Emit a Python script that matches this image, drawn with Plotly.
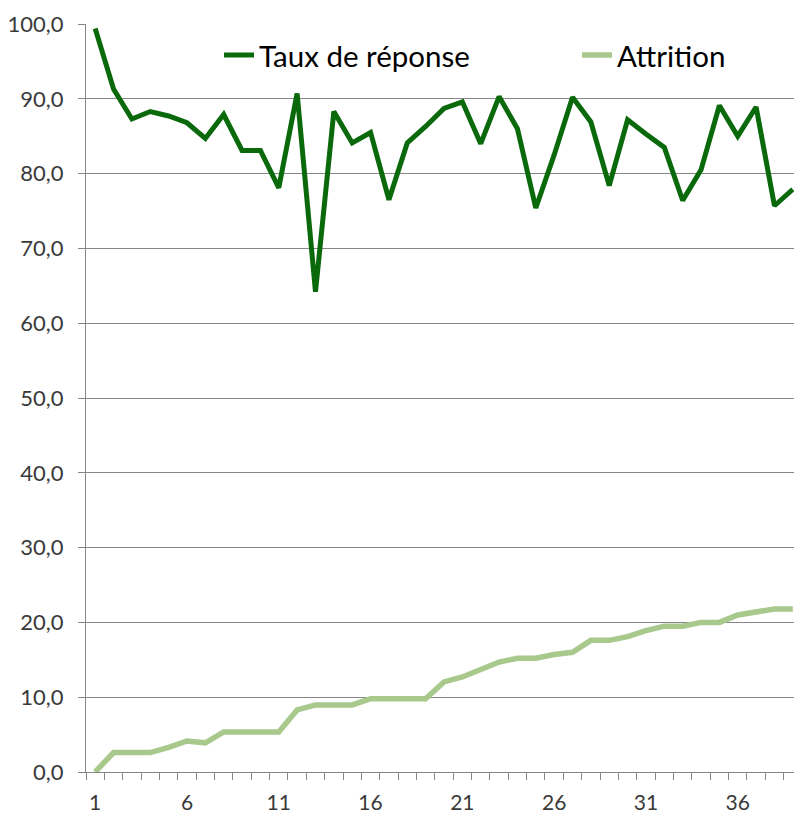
import plotly.graph_objects as go

x_vals = list(range(1, 40))
taux_reponse = [99.4, 91.3, 87.3, 88.3, 87.7, 86.8, 84.7, 87.9, 83.1, 83.1,
                78.1, 90.7, 64.2, 88.3, 84.1, 85.5, 76.5, 84.1, 86.3, 88.7,
                89.6, 84.0, 90.3, 86.0, 75.4, 82.5, 90.2, 86.9, 78.4, 87.2,
                85.3, 83.5, 76.4, 80.5, 89.1, 85.0, 88.9, 75.7, 77.9]
attrition = [0.0, 2.6, 2.6, 2.6, 3.3, 4.15, 3.9, 5.36, 5.36, 5.36,
             5.36, 8.3, 8.97, 8.97, 8.97, 9.8, 9.8, 9.8, 9.8, 12.05,
             12.7, 13.7, 14.7, 15.2, 15.2, 15.7, 16.0, 17.6, 17.6, 18.1,
             18.9, 19.5, 19.5, 20.0, 20.0, 21.0, 21.4, 21.8, 21.8]
x_tick_vals = [1, 6, 11, 16, 21, 26, 31, 36]
x_tick_text = ["1", "6", "11", "16", "21", "26", "31", "36"]
y_tick_vals = [0, 10, 20, 30, 40, 50, 60, 70, 80, 90, 100]

FONT = "Lato"
TICK_COLOR = "#3a3a3a"
fig = go.Figure()
fig.add_trace(go.Scatter(x=x_vals, y=taux_reponse, mode="lines", name="Taux de réponse",
                         line=dict(color="#0A690A", width=5)))
fig.add_trace(go.Scatter(x=x_vals, y=attrition, mode="lines", name="Attrition",
                         line=dict(color="#A8C98B", width=5.5)))

fig.update_layout(
    width=794, height=808,
    margin=dict(l=78, r=0, t=15.5, b=44, autoexpand=False),
    paper_bgcolor="white", plot_bgcolor="white",
    separators=", ",
    font=dict(family=FONT, color=TICK_COLOR, size=22),
    showlegend=True,
    legend=dict(orientation="h", x=0.1858, xanchor="left", y=0.958, yanchor="middle",
                font=dict(family=FONT, size=29.5, color="#000000"),
                bgcolor="rgba(255,255,255,0)", entrywidth=313, entrywidthmode="pixels",
                itemwidth=30, tracegroupgap=0),
    xaxis=dict(range=[0.5, 39.5], tickvals=x_tick_vals, ticktext=x_tick_text,
               showgrid=False, zeroline=False, showline=True, linecolor="#868686", linewidth=1,
               ticks="", ticklabelstandoff=12, automargin=False,
               tickfont=dict(family=FONT, size=21, color=TICK_COLOR),
               minor=dict(tick0=0.5, dtick=1, ticks="outside", ticklen=7, tickcolor="#868686",
                          showgrid=False)),
    yaxis=dict(range=[0, 100], tickvals=y_tick_vals, tickformat=".1f",
               showgrid=True, gridcolor="#868686", gridwidth=1,
               zeroline=False, showline=True, linecolor="#868686", linewidth=1,
               ticks="outside", ticklen=7, tickcolor="#868686", ticklabelstandoff=10,
               automargin=False,
               tickfont=dict(family=FONT, size=22, color=TICK_COLOR)),
)
fig.write_html("out.html")
